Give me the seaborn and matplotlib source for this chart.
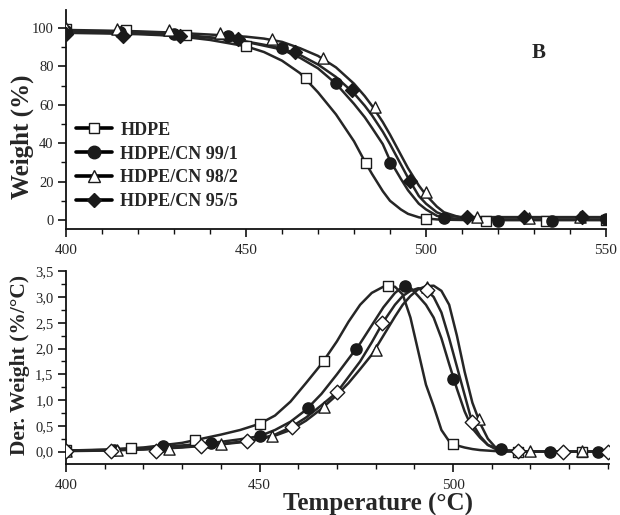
import matplotlib
matplotlib.use("Agg")
import matplotlib.pyplot as plt
from matplotlib.lines import Line2D
from matplotlib.ticker import MultipleLocator, FuncFormatter
import numpy as np
import pandas as pd
import seaborn as sns

# ---- TGA (top panel): fitted curves on a shared temperature grid ----
tga_temp = [400, 410, 420, 430, 440, 450, 455, 460, 465, 470, 475, 480, 483, 485,
            488, 490, 493, 495, 498, 500, 503, 505, 510, 515, 520, 530, 540, 550]
tga_hdpe = [98.5, 98, 97.3, 96, 93.8, 90.5, 87.5, 83, 76.5, 66.5, 55, 41, 30.5, 24,
            15, 10, 5.5, 3.2, 1.4, 0.8, 0.3, 0.15, 0, 0, 0, 0, 0, 0]
tga_991 = [98.3, 98, 97.5, 96.8, 95.2, 92.8, 90.8, 88.8, 84.5, 79, 71, 60.5, 53.5, 48,
           39.5, 31, 21.5, 15.5, 8.5, 5.5, 2.2, 1.2, 0.5, 0.2, 0, 0, 0, 0]
tga_982 = [99, 98.7, 98.3, 97.6, 96.6, 95.5, 94.5, 92.8, 89.5, 85.5, 79.5, 71, 64.5, 59.5,
           51, 44.5, 34, 27, 18, 13, 7, 4, 1, 0.5, 0.3, 0.3, 0.3, 0.3]
tga_955 = [97.5, 97.2, 96.8, 96, 95, 93, 91.3, 89.3, 86, 81, 74.5, 66, 59.5, 54.5,
           46, 39.5, 29, 22, 12.5, 8.5, 4, 2.5, 1.5, 1.5, 1.5, 1.5, 1.5, 1.5]

# TGA data markers
tga_m_hdpe_t = [400, 416.7, 433.3, 450, 466.7, 483.3, 500, 516.7, 533.3, 550]
tga_m_hdpe_w = [99.5, 99, 96.2, 90.5, 73.8, 29.5, 0.4, -0.3, -0.3, 0]
tga_m_991_t = [400, 415, 430, 445, 460, 475, 490, 505, 520, 535, 550]
tga_m_991_w = [98.3, 97.8, 96.8, 96, 89.4, 71.2, 29.5, 1, -0.5, -0.5, 0.3]
tga_m_982_t = [400, 414.3, 428.6, 442.9, 457.1, 471.4, 485.7, 500, 514.3, 528.6, 542.9]
tga_m_982_w = [100, 99.5, 99, 97.5, 94.3, 84.5, 58.7, 14.4, 1.8, 0.9, 1.5]
tga_m_955_t = [400, 415.9, 431.8, 447.7, 463.6, 479.5, 495.5, 511.4, 527.3, 543.2]
tga_m_955_w = [97, 95.7, 96, 94.3, 87.7, 67.7, 20.5, 1.8, 1.8, 1.8]

# ---- DTG (bottom panel) ----
dtg_temp = [400, 410, 420, 430, 440, 445, 450, 454, 458, 462, 466, 470, 473, 476, 479, 482,
            485, 487, 489, 491, 493, 495, 497, 499, 501, 503, 505, 507, 509, 511, 514,
            520, 530, 540]
dtg_hdpe = [0.02, 0.04, 0.08, 0.17, 0.33, 0.42, 0.54, 0.7, 0.97, 1.33, 1.7, 2.14, 2.52, 2.85, 3.08, 3.2,
            3.2, 3.05, 2.6, 1.95, 1.3, 0.88, 0.42, 0.2, 0.12, 0.08, 0.05, 0.03, 0.02, 0.01, 0,
            0, 0, 0]
dtg_991 = [0.02, 0.03, 0.07, 0.12, 0.19, 0.24, 0.3, 0.42, 0.58, 0.81, 1.12, 1.5, 1.8, 2.1, 2.45, 2.8,
           3.08, 3.2, 3.18, 3.02, 2.85, 2.6, 2.2, 1.7, 1.22, 0.78, 0.45, 0.27, 0.13, 0.07, 0.02,
           0, 0, 0]
dtg_982 = [0.01, 0.02, 0.04, 0.08, 0.14, 0.18, 0.24, 0.31, 0.42, 0.6, 0.83, 1.1, 1.33, 1.6, 1.88, 2.25,
           2.62, 2.85, 3.02, 3.15, 3.21, 3.22, 3.12, 2.85, 2.25, 1.55, 0.95, 0.55, 0.25, 0.08, 0.02,
           0, 0, 0]
dtg_955 = [0.02, 0.03, 0.05, 0.09, 0.15, 0.19, 0.25, 0.33, 0.47, 0.66, 0.9, 1.15, 1.45, 1.75, 2.12, 2.52,
           2.85, 3.02, 3.12, 3.17, 3.15, 3.0, 2.7, 2.2, 1.65, 1.1, 0.55, 0.3, 0.13, 0.05, 0.02,
           0, 0, 0]

dtg_m_hdpe_t = [400, 416.7, 433.3, 450, 466.7, 483.3, 500, 516.7, 533.3]
dtg_m_hdpe_d = [0.03, 0.08, 0.22, 0.54, 1.76, 3.22, 0.15, 0.0, 0.0]
dtg_m_991_t = [400, 412.5, 425, 437.5, 450, 462.5, 475, 487.5, 500, 512.5, 525, 537.5]
dtg_m_991_d = [0.02, 0.04, 0.1, 0.17, 0.3, 0.84, 1.99, 3.22, 1.4, 0.05, 0.0, 0.0]
dtg_m_982_t = [400, 413.3, 426.7, 440, 453.3, 466.7, 480, 493.3, 506.7, 520, 533.3]
dtg_m_982_d = [0.01, 0.03, 0.06, 0.15, 0.3, 0.87, 1.98, 3.2, 0.63, 0.02, 0.02]
dtg_m_955_t = [400, 411.7, 423.3, 435, 446.7, 458.3, 470, 481.7, 493.3, 505, 516.7, 528.3, 540]
dtg_m_955_d = [0.02, 0.02, 0.01, 0.1, 0.21, 0.47, 1.15, 2.49, 3.13, 0.57, 0.01, 0.0, 0.0]

labels = ["HDPE", "HDPE/CN 99/1", "HDPE/CN 98/2", "HDPE/CN 95/5"]

sns.set_style("ticks")
plt.rcParams["font.family"] = ["Liberation Serif", "DejaVu Serif"]

line_col = "#262626"
edge_col = "#1a1a1a"

fig = plt.figure(figsize=(6.2, 5.15), dpi=100)
ax1 = fig.add_axes([66 / 620, 1 - 229 / 515, 540 / 620, 219 / 515])
ax2 = fig.add_axes([66 / 620, 1 - 464 / 515, 543 / 620, 193 / 515])


def curves(ax, temp, series):
    for s in series:
        sns.lineplot(x=temp, y=s, ax=ax, color=line_col, lw=1.8, zorder=2)


def markers(ax, t, v, mk, filled, size=55):
    sns.scatterplot(x=t, y=v, ax=ax, marker=mk, s=size,
                    color=edge_col if filled else "white",
                    edgecolor=edge_col, linewidth=1.0, zorder=3)


curves(ax1, tga_temp, [tga_hdpe, tga_991, tga_982, tga_955])
markers(ax1, tga_m_hdpe_t, tga_m_hdpe_w, "s", False, 50)
markers(ax1, tga_m_991_t, tga_m_991_w, "o", True, 65)
markers(ax1, tga_m_982_t, tga_m_982_w, "^", False, 65)
markers(ax1, tga_m_955_t, tga_m_955_w, "D", True, 50)

curves(ax2, dtg_temp, [dtg_hdpe, dtg_991, dtg_982, dtg_955])
markers(ax2, dtg_m_hdpe_t, dtg_m_hdpe_d, "s", False, 50)
markers(ax2, dtg_m_991_t, dtg_m_991_d, "o", True, 65)
markers(ax2, dtg_m_982_t, dtg_m_982_d, "^", False, 65)
markers(ax2, dtg_m_955_t, dtg_m_955_d, "D", False, 55)

# axes cosmetics
for ax in (ax1, ax2):
    sns.despine(ax=ax)
    for sp in ("left", "bottom"):
        ax.spines[sp].set_linewidth(1.3)
        ax.spines[sp].set_color("#111111")
    ax.tick_params(which="major", length=6, width=1.2, color="#111111", direction="out")
    ax.tick_params(which="minor", length=3.5, width=1.0, color="#111111", direction="out")
    ax.tick_params(axis="x", labelsize=11, pad=5)
    ax.tick_params(axis="y", labelsize=10.5, pad=3)
    ax.xaxis.set_major_locator(MultipleLocator(50))
    ax.xaxis.set_minor_locator(MultipleLocator(10))
    ax.set_facecolor("white")

ax1.set_xlim(400, 550)
ax1.set_ylim(-4.7, 109.4)
ax1.yaxis.set_major_locator(MultipleLocator(20))
ax1.yaxis.set_minor_locator(MultipleLocator(10))
ax1.set_xlabel("")
ax1.set_ylabel("Weight (%)", fontsize=18, fontweight="bold")
ax1.yaxis.label.set_va("center")
ax1.yaxis.set_label_coords(-0.0815, 0.42)
ax1.text(0.876, 0.804, "B", transform=ax1.transAxes, fontsize=15,
         fontweight="bold", ha="center", va="center")

ax2.set_xlim(400, 540.3)
ax2.set_ylim(-0.24, 3.505)
ax2.yaxis.set_major_locator(MultipleLocator(0.5))
ax2.yaxis.set_minor_locator(MultipleLocator(0.25))
ax2.yaxis.set_major_formatter(FuncFormatter(lambda v, p: f"{v:.1f}".replace(".", ",")))
ax2.set_ylabel("Der. Weight (%/°C)", fontsize=15.5, fontweight="bold")
ax2.yaxis.label.set_va("center")
ax2.yaxis.set_label_coords(-0.085, 0.513)
ax2.set_xlabel("Temperature (°C)", fontsize=18, fontweight="bold")
ax2.xaxis.label.set_va("center")
ax2.xaxis.set_label_coords(0.575, -0.21)

handles = [
    Line2D([], [], color="black", lw=2.6, marker="s", markersize=7.5,
           markerfacecolor="white", markeredgecolor=edge_col, markeredgewidth=1.0),
    Line2D([], [], color="black", lw=2.6, marker="o", markersize=9,
           markerfacecolor=edge_col, markeredgecolor=edge_col),
    Line2D([], [], color="black", lw=2.6, marker="^", markersize=9,
           markerfacecolor="white", markeredgecolor=edge_col, markeredgewidth=1.0),
    Line2D([], [], color="black", lw=2.6, marker="D", markersize=7.5,
           markerfacecolor=edge_col, markeredgecolor=edge_col),
]
ax1.legend(handles, labels, loc="upper left", bbox_to_anchor=(0.0185, 0.49),
           frameon=False, borderpad=0, borderaxespad=0, handlelength=2.0,
           handletextpad=0.45, labelspacing=0.38,
           prop={"family": ["Liberation Serif"], "weight": "bold", "size": 13})

fig.savefig("out.png", dpi=100)
